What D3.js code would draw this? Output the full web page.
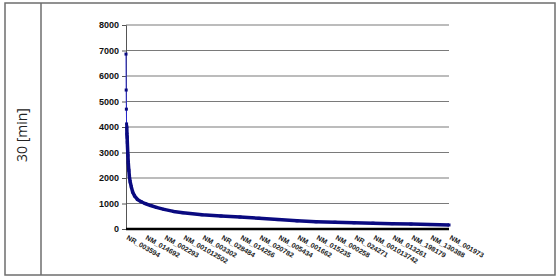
<!DOCTYPE html>
<html>
<head>
<meta charset="utf-8">
<script src="https://cdn.jsdelivr.net/npm/d3@7"></script>
<style>
  body { margin: 0; background: #fff; }
  svg { display: block; }
</style>
</head>
<body>
<svg width="560" height="280"></svg>
<script>
"use strict";

// Gene labels shown on the category axis (every 100th gene)
var geneLabels = ["NR_003594", "NM_014692", "NM_002293", "NM_001012502", "NM_003302",
    "NR_028484", "NM_014256", "NM_020782", "NM_005434", "NM_001662", "NM_015235",
    "NM_000258", "NR_024271", "NM_001013742", "NM_013261", "NM_198179", "NM_130388",
    "NM_001973"];
var labelStep = 100;

// Rank of gene and value
var ranks = [0, 1, 2, 3, 4, 5, 6, 7, 8, 10, 12, 15, 18, 22, 28, 35, 45, 60, 80, 100,
    130, 160, 200, 250, 300, 400, 500, 600, 700, 800, 900, 1000, 1100, 1200, 1300,
    1400, 1500, 1600, 1700];
var values = [6860, 5450, 4700, 4120, 4020, 3720, 3600, 3400, 3200, 2900, 2600, 2300,
    2050, 1850, 1650, 1450, 1300, 1160, 1070, 1000, 920, 850, 770, 690, 640, 560, 510,
    470, 420, 370, 320, 285, 265, 245, 228, 210, 192, 175, 158];

var yTicks = [0, 1000, 2000, 3000, 4000, 5000, 6000, 7000, 8000];

var svg = d3.select("svg");

// Outer frame and divider
svg.append("rect")
    .attr("x", 5).attr("y", 3)
    .attr("width", 550).attr("height", 272)
    .attr("fill", "none")
    .attr("stroke", "#6e6e6e")
    .attr("stroke-width", 1.5);

svg.append("line")
    .attr("x1", 41).attr("x2", 41)
    .attr("y1", 3).attr("y2", 275)
    .attr("stroke", "#6e6e6e")
    .attr("stroke-width", 1.5);

// Row title
svg.append("text")
    .attr("transform", "translate(27, 135) rotate(-90)")
    .style("text-anchor", "middle")
    .style("font-family", "'Open Sans', sans-serif")
    .style("font-size", "14px")
    .attr("fill", "#222")
    .text("30 [min]");

// Scales
var xScale = d3.scaleLinear()
    .domain([0, (geneLabels.length - 1) * labelStep])
    .range([126, 449]);

var yScale = d3.scaleLinear()
    .domain([0, 8000])
    .range([229, 25]);

var chart = svg.append("g").attr("class", "chart");

// Gridlines
chart.append("g")
    .selectAll("line")
    .data(yTicks.filter(function(d) { return d > 0; }))
    .enter().append("line")
    .attr("x1", xScale.range()[0])
    .attr("x2", xScale.range()[1])
    .attr("y1", function(d) { return yScale(d); })
    .attr("y2", function(d) { return yScale(d); })
    .attr("stroke", "#7a7a7a")
    .attr("stroke-width", 1.2);

// Y axis
var yAxis = d3.axisLeft(yScale)
    .tickValues(yTicks)
    .tickFormat(d3.format("d"))
    .tickSize(4)
    .tickPadding(3);

var yg = chart.append("g")
    .attr("transform", "translate(126, 0)")
    .call(yAxis);
yg.select(".domain").attr("stroke", "#555");
yg.selectAll(".tick line").attr("stroke", "#555");
yg.selectAll("text")
    .style("font-family", "'Liberation Sans', Arial, sans-serif")
    .style("font-size", "9px")
    .style("font-weight", "bold")
    .attr("fill", "#111");

// X axis line
chart.append("line")
    .attr("x1", xScale.range()[0])
    .attr("x2", xScale.range()[1])
    .attr("y1", yScale(0))
    .attr("y2", yScale(0))
    .attr("stroke", "#000")
    .attr("stroke-width", 2.5);

// Category labels
chart.append("g")
    .selectAll("text")
    .data(geneLabels)
    .enter().append("text")
    .attr("transform", function(d, i) {
        return "translate(" + (xScale(i * labelStep)) + ", 239) rotate(30)";
    })
    .style("text-anchor", "start")
    .style("font-family", "'Liberation Sans', Arial, sans-serif")
    .style("font-size", "7px")
    .style("font-weight", "bold")
    .attr("fill", "#222")
    .text(function(d) { return d; });

// Series
var points = ranks.map(function(r, i) { return [r, values[i]]; });

var line = d3.line()
    .x(function(d) { return xScale(d[0]); })
    .y(function(d) { return yScale(d[1]); });

chart.append("path")
    .attr("d", line(points))
    .attr("fill", "none")
    .attr("stroke", "#2626d0")
    .attr("stroke-width", 1);

// Dense markers appear as a thick band
chart.append("path")
    .attr("d", line(points.filter(function(d) { return d[0] >= 4; })))
    .attr("fill", "none")
    .attr("stroke", "#0a0a80")
    .attr("stroke-width", 3.5)
    .attr("stroke-linejoin", "round");

chart.append("g")
    .selectAll("rect")
    .data(points)
    .enter().append("rect")
    .attr("x", function(d) { return xScale(d[0]) - 1.5; })
    .attr("y", function(d) { return yScale(d[1]) - 1.5; })
    .attr("width", 3)
    .attr("height", 3)
    .attr("fill", "#0a0a80");
</script>
</body>
</html>
